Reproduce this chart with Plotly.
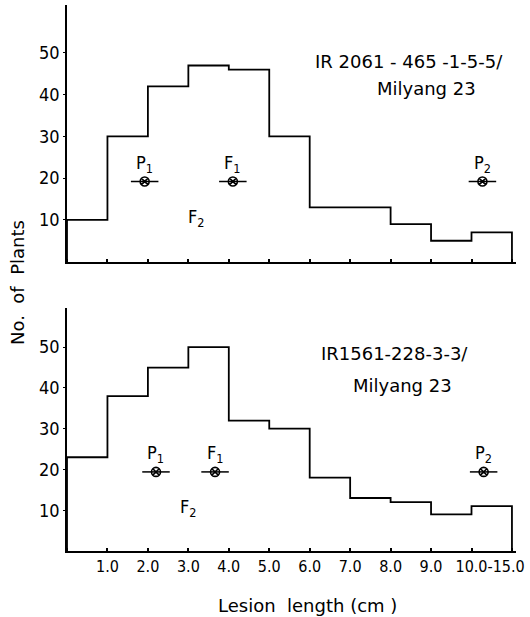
import plotly.graph_objects as go

# ---- data ----
bins = ["0-1.0", "1.0-2.0", "2.0-3.0", "3.0-4.0", "4.0-5.0", "5.0-6.0",
        "6.0-7.0", "7.0-8.0", "8.0-9.0", "9.0-10.0", "10.0-15.0"]
top_counts = [10, 30, 42, 47, 46, 30, 13, 13, 9, 5, 7]
bottom_counts = [23, 38, 45, 50, 32, 30, 18, 13, 12, 9, 11]

tick_labels = ["1.0", "2.0", "3.0", "4.0", "5.0", "6.0", "7.0", "8.0", "9.0", "10.0-15.0"]
tick_pos = [1, 2, 3, 4, 5, 6, 7, 8, 9, 10.46]

parent_names = ["P<sub>1</sub>", "F<sub>1</sub>", "P<sub>2</sub>"]
top_parent_x = [1.92, 4.1, 10.27]
top_parent_y = [19.2, 19.2, 19.2]
bottom_parent_x = [2.2, 3.66, 10.3]
bottom_parent_y = [19.4, 19.4, 19.4]
parent_err = [0.34, 0.34, 0.34]

f2_top = (3.2, 10.5)
f2_bottom = (3.0, 10.5)

cross_top = ["IR 2061 - 465 -1-5-5/", "Milyang 23"]
cross_bottom = ["IR1561-228-3-3/", "Milyang 23"]

FONT = "DejaVu Sans Condensed, DejaVu Sans"
WIDE = "DejaVu Sans"
edges = list(range(len(bins) + 1))

def step_xy(counts):
    x = [0] + edges[:-1] + [edges[-1]]
    y = [0] + counts + [0]
    return x, y

fig = go.Figure()
for counts, xa, ya in [(top_counts, "x", "y"), (bottom_counts, "x2", "y2")]:
    sx, sy = step_xy(counts)
    fig.add_trace(go.Scatter(x=sx, y=sy, mode="lines", line_shape="hv",
                             line=dict(color="black", width=1.8),
                             xaxis=xa, yaxis=ya, showlegend=False, hoverinfo="skip"))

for px_, py_, xa, ya in [(top_parent_x, top_parent_y, "x", "y"),
                         (bottom_parent_x, bottom_parent_y, "x2", "y2")]:
    fig.add_trace(go.Scatter(x=px_, y=py_, mode="markers",
                             marker=dict(symbol="circle-x-open", size=9, color="black",
                                         line=dict(width=1.6, color="black")),
                             error_x=dict(type="data", array=parent_err, width=0,
                                          thickness=1.5, color="black"),
                             xaxis=xa, yaxis=ya, showlegend=False, hoverinfo="skip"))

def f(size, fam=FONT):
    return dict(size=size, family=fam, color="black")

ann = []
for px_, py_, xr, yr in [(top_parent_x, top_parent_y, "x", "y"),
                         (bottom_parent_x, bottom_parent_y, "x2", "y2")]:
    for name, xv, yv in zip(parent_names, px_, py_):
        ann.append(dict(x=xv, y=yv, xref=xr, yref=yr, text=name, showarrow=False,
                        yshift=18, font=f(18)))

ann.append(dict(x=f2_top[0], y=f2_top[1], xref="x", yref="y", text="F<sub>2</sub>",
                showarrow=False, font=f(18)))
ann.append(dict(x=f2_bottom[0], y=f2_bottom[1], xref="x2", yref="y2", text="F<sub>2</sub>",
                showarrow=False, font=f(18)))

ann.append(dict(x=10.83, y=47.9, xref="x", yref="y", text=cross_top[0], showarrow=False,
                xanchor="right", font=f(18, WIDE)))
ann.append(dict(x=8.88, y=41.6, xref="x", yref="y", text=cross_top[1], showarrow=False,
                font=f(18, WIDE)))
ann.append(dict(x=8.1, y=48.5, xref="x2", yref="y2", text=cross_bottom[0], showarrow=False,
                font=f(18, WIDE)))
ann.append(dict(x=8.3, y=40.7, xref="x2", yref="y2", text=cross_bottom[1], showarrow=False,
                font=f(18, WIDE)))

ann.append(dict(x=0.535, y=-0.099, xref="paper", yref="paper", text="Lesion  length (cm )",
                xanchor="center", yanchor="middle", showarrow=False, font=f(18, WIDE)))
ann.append(dict(x=-0.109, y=0.491, xref="paper", yref="paper", text="No.  of  Plants",
                xanchor="center", yanchor="middle", showarrow=False, textangle=-90,
                font=f(18, WIDE)))

xcommon = dict(range=[0, 11.1], showgrid=False, zeroline=False, showline=True,
               linecolor="black", linewidth=1.5, ticks="", ticklen=0, automargin=False,
               minor=dict(tickvals=edges, ticks="inside", ticklen=3, tickcolor="black", tickwidth=1.5))
ycommon = dict(showgrid=False, zeroline=False, showline=True, linecolor="black", linewidth=1.5,
               tickvals=[10, 20, 30, 40, 50], ticks="outside", ticklen=2, tickcolor="black",
               automargin=False, tickfont=f(18))

fig.update_layout(
    width=530, height=617,
    margin=dict(l=67, r=14, t=5, b=66),
    plot_bgcolor="white", paper_bgcolor="white",
    annotations=ann,
    xaxis=dict(**xcommon, anchor="y", domain=[0, 1], showticklabels=False),
    yaxis=dict(**ycommon, anchor="x", domain=[0.53, 1.0], range=[0, 61.5]),
    xaxis2=dict(**xcommon, anchor="y2", domain=[0, 1], tickvals=tick_pos, ticktext=tick_labels,
                tickfont=f(16)),
    yaxis2=dict(**ycommon, anchor="x2", domain=[0, 0.445], range=[0, 59.6]),
)

fig.write_html("out.html", config={"displayModeBar": False})

# remove the browser's default page margin so the figure sits at the window origin
with open("out.html", "r", encoding="utf-8") as fh:
    html = fh.read()
html = html.replace("<head>", "<head><style>html,body{margin:0;padding:0;overflow:hidden;}</style>", 1)
with open("out.html", "w", encoding="utf-8") as fh:
    fh.write(html)
